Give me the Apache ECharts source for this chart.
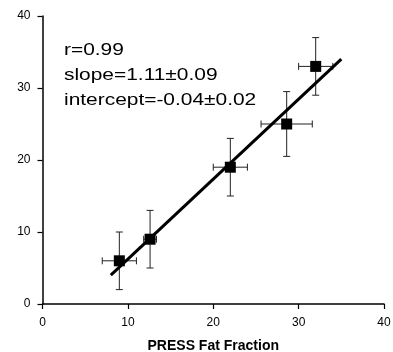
<!DOCTYPE html>
<html>
<head>
<meta charset="utf-8">
<script src="https://cdn.jsdelivr.net/npm/echarts@6/dist/echarts.min.js"></script>
<style>html,body{margin:0;padding:0;background:#fff}#c{width:393px;height:352px}</style>
</head>
<body>
<div id="c"></div>
<script>
var xValues = [9.0, 12.6, 22.0, 28.6, 32.0];
var yValues = [6.0, 9.0, 19.0, 25.0, 33.0];
var xErrors = [2.0, 0.75, 2.0, 3.0, 2.0];
var yErrors = [4.0, 4.0, 4.0, 4.5, 4.0];
var fitX = [8.0, 35.0];
var fitY = [4.0, 34.0];
var axisTicks = [0, 10, 20, 30, 40];
var xAxisTitle = 'PRESS Fat Fraction';
var statLines = ['r=0.99', 'slope=1.11\u00b10.09', 'intercept=-0.04\u00b10.02'];

var chart = echarts.init(document.getElementById('c'), null, {renderer: 'canvas'});
var FONT = '"Liberation Sans", Arial, Helvetica, sans-serif';

var points = xValues.map(function (x, i) { return [x, yValues[i], xErrors[i], yErrors[i]]; });
var fitLine = fitX.map(function (x, i) { return [x, fitY[i]]; });

function errRender(params, api) {
  var x = api.value(0), y = api.value(1), ex = api.value(2), ey = api.value(3);
  var c = api.coord([x, y]);
  var l = api.coord([x - ex, y]), r = api.coord([x + ex, y]);
  var t = api.coord([x, y + ey]), b = api.coord([x, y - ey]);
  var cap = 3.5;
  var st = {stroke: '#222', lineWidth: 1, fill: null};
  return {
    type: 'group',
    children: [
      {type: 'line', shape: {x1: l[0], y1: c[1], x2: r[0], y2: c[1]}, style: st},
      {type: 'line', shape: {x1: l[0], y1: c[1] - cap, x2: l[0], y2: c[1] + cap}, style: st},
      {type: 'line', shape: {x1: r[0], y1: c[1] - cap, x2: r[0], y2: c[1] + cap}, style: st},
      {type: 'line', shape: {x1: c[0], y1: t[1], x2: c[0], y2: b[1]}, style: st},
      {type: 'line', shape: {x1: c[0] - cap, y1: t[1], x2: c[0] + cap, y2: t[1]}, style: st},
      {type: 'line', shape: {x1: c[0] - cap, y1: b[1], x2: c[0] + cap, y2: b[1]}, style: st}
    ]
  };
}

var axisCommon = {
  type: 'value',
  min: axisTicks[0],
  max: axisTicks[axisTicks.length - 1],
  interval: 10,
  splitLine: {show: false},
  axisLine: {show: true, onZero: false, lineStyle: {color: '#000', width: 1.5}},
  axisTick: {show: true, length: 5, lineStyle: {color: '#000', width: 1.2}}
};

chart.setOption({
  animation: false,
  backgroundColor: '#fff',
  grid: {left: 42.5, right: 9, top: 16, bottom: 48, containLabel: false, outerBoundsMode: 'none'},
  xAxis: Object.assign({}, axisCommon, {
    name: xAxisTitle,
    nameLocation: 'middle',
    nameGap: 35,
    nameTextStyle: {fontFamily: FONT, fontSize: 14, fontWeight: 'bold', color: '#000'},
    axisLabel: {fontFamily: FONT, fontSize: 12, color: '#000', margin: 13}
  }),
  yAxis: Object.assign({}, axisCommon, {
    axisLabel: {fontFamily: FONT, fontSize: 12, color: '#000', margin: 12}
  }),
  series: [
    {
      type: 'custom',
      renderItem: errRender,
      data: points,
      encode: {x: 0, y: 1},
      z: 2
    },
    {
      type: 'line',
      data: fitLine,
      symbol: 'none',
      lineStyle: {color: '#000', width: 3},
      z: 3
    },
    {
      type: 'scatter',
      data: points.map(function (p) { return [p[0], p[1]]; }),
      symbol: 'rect',
      symbolSize: 11,
      itemStyle: {color: '#000', opacity: 1},
      z: 4
    }
  ],
  graphic: statLines.map(function (s, i) {
    return {
      type: 'text',
      x: 64,
      y: 50 + i * 25,
      scaleX: 1.23,
      style: {text: s, fontSize: 17, fontFamily: FONT, fill: '#000', verticalAlign: 'middle', align: 'left'}
    };
  })
});
</script>
</body>
</html>
